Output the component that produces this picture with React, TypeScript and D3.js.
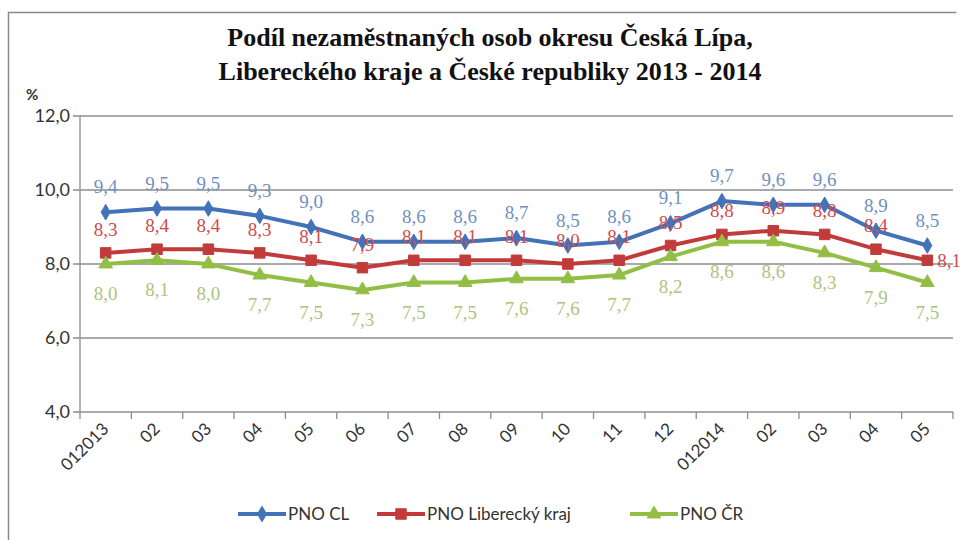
import React from 'react';
import * as d3 from 'd3';

const months = ['012013', '02', '03', '04', '05', '06', '07', '08', '09', '10', '11', '12', '012014', '02', '03', '04', '05'];
const pnoCL = [9.4, 9.5, 9.5, 9.3, 9.0, 8.6, 8.6, 8.6, 8.7, 8.5, 8.6, 9.1, 9.7, 9.6, 9.6, 8.9, 8.5];
const pnoLK = [8.3, 8.4, 8.4, 8.3, 8.1, 7.9, 8.1, 8.1, 8.1, 8.0, 8.1, 8.5, 8.8, 8.9, 8.8, 8.4, 8.1];
const pnoCR = [8.0, 8.1, 8.0, 7.7, 7.5, 7.3, 7.5, 7.5, 7.6, 7.6, 7.7, 8.2, 8.6, 8.6, 8.3, 7.9, 7.5];
const yTicks = [4, 6, 8, 10, 12];

const series = [
  { name: 'PNO CL', values: pnoCL, color: '#4372b8', label: '#7090c0', marker: 'diamond', dy: -19 },
  { name: 'PNO Liberecký kraj', values: pnoLK, color: '#c23b3b', label: '#d24a4a', marker: 'square', dy: -17 },
  { name: 'PNO ČR', values: pnoCR, color: '#93be45', label: '#adc47e', marker: 'triangle', dy: 36 },
];

const W = 961;
const H = 540;
const margin = { left: 80, right: 8, top: 116, bottom: 128 };

const fmt = (v: number) => v.toFixed(1).replace('.', ',');

function Marker({ type, x, y, color }: { type: string; x: number; y: number; color: string }) {
  const sym = type === 'diamond' ? d3.symbolDiamond : type === 'square' ? d3.symbolSquare : d3.symbolTriangle;
  const size = type === 'diamond' ? 70 : type === 'square' ? 110 : 80;
  const p = d3.symbol().type(sym).size(size)() || '';
  return <path d={p} transform={`translate(${x},${y})`} fill={color} stroke={color} strokeWidth={1} />;
}

export default function App() {
  const x = d3.scaleBand<number>().domain(d3.range(months.length)).range([margin.left, W - margin.right]);
  const y = d3.scaleLinear().domain([4, 12]).range([H - margin.bottom, margin.top]);
  const cx = (i: number) => (x(i) || 0) + x.bandwidth() / 2;
  const line = d3.line<number>().x((_, i) => cx(i)).y((d) => y(d));
  const y0 = y(4);
  const last = months.length - 1;

  const legendX = [238, 377, 630];

  return (
    <svg width={W} height={H} style={{ position: 'absolute', left: 0, top: 0, background: '#fff' }}>
      <rect x={0} y={0} width={W} height={H} fill="#fff" />
      {/* chart frame */}
      <path d={`M8.5,${H}V12.5H956.5`} fill="none" stroke="#8a8a8a" strokeWidth={1.5} />

      <text x={490} y={46} textAnchor="middle" fontFamily="Liberation Serif" fontWeight="bold" fontSize={26} fill="#111">
        Podíl nezaměstnaných osob okresu Česká Lípa,
      </text>
      <text x={490} y={80} textAnchor="middle" fontFamily="Liberation Serif" fontWeight="bold" fontSize={26} fill="#111">
        Libereckého kraje a České republiky 2013 - 2014
      </text>
      <text x={26} y={100} fontFamily="Lato" fontSize={15} fontWeight="bold" fill="#333">%</text>

      {yTicks.map((t) => (
        <g key={t}>
          <line x1={margin.left - 7} x2={W - margin.right} y1={y(t)} y2={y(t)} stroke="#8c8c8c" strokeWidth={1.3} />
          <text x={margin.left - 10} y={y(t) + 6} textAnchor="end" fontFamily="Lato" fontSize={18} fill="#333">
            {fmt(t)}
          </text>
        </g>
      ))}
      <line x1={margin.left} x2={margin.left} y1={y(12)} y2={y0} stroke="#8c8c8c" strokeWidth={1.3} />

      {d3.range(months.length + 1).map((i) => {
        const xx = i < months.length ? x(i) || 0 : W - margin.right;
        return <line key={i} x1={xx} x2={xx} y1={y0} y2={y0 + 7} stroke="#8c8c8c" strokeWidth={1.3} />;
      })}
      {months.map((m, i) => (
        <text
          key={i}
          transform={`translate(${cx(i) + 4},${y0 + 18}) rotate(-45)`}
          textAnchor="end"
          fontFamily="Lato"
          fontSize={17}
          fill="#333"
        >
          {m}
        </text>
      ))}

      {series.map((s) => (
        <g key={s.name}>
          <path d={line(s.values) || ''} fill="none" stroke={s.color} strokeWidth={4} strokeLinejoin="round" />
          {s.values.map((v, i) => (
            <Marker key={i} type={s.marker} x={cx(i)} y={y(v)} color={s.color} />
          ))}
          {s.values.map((v, i) => {
            // the last regional label sits to the right of its point in the original
            const right = s.marker === 'square' && i === last;
            return (
              <text
                key={'l' + i}
                x={right ? cx(i) + 10 : cx(i)}
                y={right ? y(v) + 7 : y(v) + s.dy}
                textAnchor={right ? 'start' : 'middle'}
                fontFamily="Liberation Serif"
                fontSize={19}
                fill={s.label}
              >
                {fmt(v)}
              </text>
            );
          })}
        </g>
      ))}

      {series.map((s, k) => {
        const lx = legendX[k];
        const ly = 514;
        return (
          <g key={'leg' + k}>
            <line x1={lx} x2={lx + 48} y1={ly} y2={ly} stroke={s.color} strokeWidth={4} />
            <Marker type={s.marker} x={lx + 24} y={ly} color={s.color} />
            <text x={lx + 50} y={ly + 6} fontFamily="Lato" fontSize={17} fill="#333">
              {s.name}
            </text>
          </g>
        );
      })}
    </svg>
  );
}
